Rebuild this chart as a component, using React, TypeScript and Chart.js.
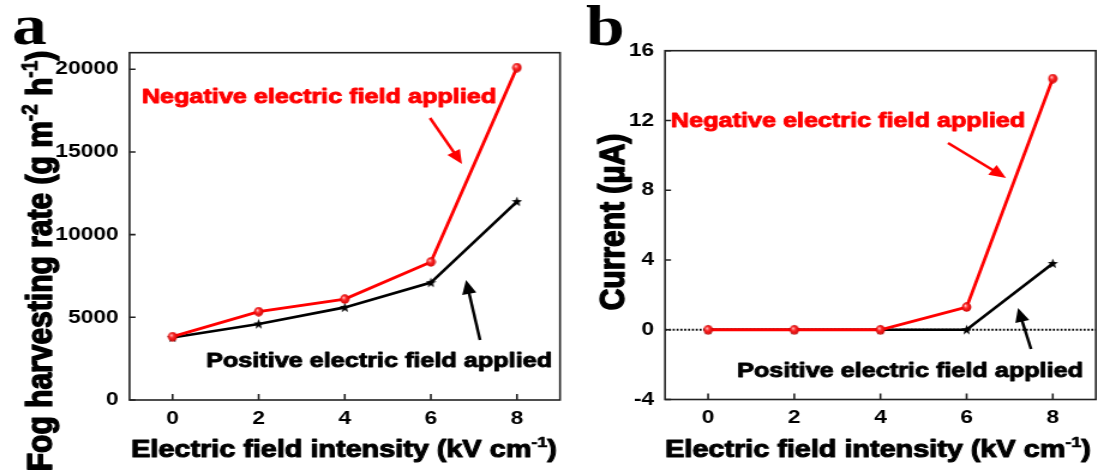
import React, { useEffect, useRef } from "react";
import { Chart, registerables } from "chart.js";

Chart.register(...registerables);

// ---------- data ----------
const fieldKV = [0, 2, 4, 6, 8];
const fogNegative = [3830, 5340, 6100, 8350, 20100];
const fogPositive = [3780, 4600, 5600, 7100, 12000];
const currentNegative = [0, 0, 0, 1.3, 14.4];
const currentPositive = [0, 0, 0, 0, 3.8];
const xTickValues = [0, 2, 4, 6, 8];
const fogTickValues = [0, 5000, 10000, 15000, 20000];
const currentTickValues = [-4, 0, 4, 8, 12, 16];

const negLabel = "Negative electric field applied";
const posLabel = "Positive electric field applied";

// ---------- styling ----------
const S = 1.2; // horizontal stretch of the picture
const FONT = '"Liberation Sans", Arial, Helvetica, sans-serif';
const SERIF = '"Liberation Serif", "Times New Roman", serif';
const RED = "#ff0000";

type Part = { t: string; sup?: boolean };

function drawRich(ctx: CanvasRenderingContext2D, parts: Part[], x: number, y: number, size: number, color: string) {
  const mainFont = `bold ${size}px ${FONT}`;
  const supFont = `bold ${Math.round(size * 0.62)}px ${FONT}`;
  let total = 0;
  const widths = parts.map((p) => {
    ctx.font = p.sup ? supFont : mainFont;
    const w = ctx.measureText(p.t).width;
    total += w;
    return w;
  });
  let cx = x - total / 2;
  ctx.save();
  ctx.fillStyle = color;
  ctx.strokeStyle = color;
  ctx.lineJoin = "round";
  ctx.textAlign = "left";
  ctx.textBaseline = "alphabetic";
  parts.forEach((p, i) => {
    ctx.font = p.sup ? supFont : mainFont;
    const yy = p.sup ? y - size * 0.42 : y;
    ctx.lineWidth = (p.sup ? size * 0.62 : size) * 0.045;
    ctx.fillText(p.t, cx, yy);
    ctx.strokeText(p.t, cx, yy);
    cx += widths[i];
  });
  ctx.restore();
}

function drawArrow(ctx: CanvasRenderingContext2D, x1: number, y1: number, x2: number, y2: number, color: string) {
  const dx = x2 - x1, dy = y2 - y1;
  const L = Math.hypot(dx, dy);
  const ux = dx / L, uy = dy / L;
  const headLen = 14, headW = 6;
  const bx = x2 - ux * headLen, by = y2 - uy * headLen;
  ctx.save();
  ctx.strokeStyle = color;
  ctx.lineWidth = 2.5;
  ctx.beginPath();
  ctx.moveTo(x1, y1);
  ctx.lineTo(bx + ux * 2, by + uy * 2);
  ctx.stroke();
  ctx.fillStyle = color;
  ctx.beginPath();
  ctx.moveTo(x2, y2);
  ctx.lineTo(bx - uy * headW, by + ux * headW);
  ctx.lineTo(bx + uy * headW, by - ux * headW);
  ctx.closePath();
  ctx.fill();
  ctx.restore();
}

function makeSphere(): HTMLCanvasElement {
  const c = document.createElement("canvas");
  c.width = 9;
  c.height = 10;
  const g = c.getContext("2d")!;
  g.translate(4.5, 5);
  g.scale(1 / S, 1);
  const grad = g.createRadialGradient(-1.4, -1.6, 0.2, 0, 0, 4.8);
  grad.addColorStop(0, "#ffd0d0");
  grad.addColorStop(0.4, "#ff2a2a");
  grad.addColorStop(1, "#d00000");
  g.fillStyle = grad;
  g.beginPath();
  g.arc(0, 0, 4.7, 0, Math.PI * 2);
  g.fill();
  return c;
}

function makeStar(): HTMLCanvasElement {
  const c = document.createElement("canvas");
  c.width = 9;
  c.height = 11;
  const g = c.getContext("2d")!;
  g.translate(4.5, 5.8);
  g.scale(1 / S, 1);
  g.beginPath();
  for (let i = 0; i < 10; i++) {
    const r = i % 2 === 0 ? 5.4 : 2.3;
    const a = -Math.PI / 2 + (i * Math.PI) / 5;
    const px = r * Math.cos(a), py = r * Math.sin(a);
    if (i === 0) g.moveTo(px, py);
    else g.lineTo(px, py);
  }
  g.closePath();
  g.fillStyle = "#000";
  g.fill();
  return c;
}

type Spec = {
  canvasW: number;
  offset: number; // display x offset of the canvas
  yLeftW: number;
  rightPad: number;
  topPad: number;
  xAxisH: number;
  yMin: number;
  yMax: number;
  yTicks: number[];
  neg: number[];
  pos: number[];
  zeroLine: boolean;
  letter: string;
  letterPos: [number, number];
  yTitle: Part[];
  yTitlePos: [number, number];
  xTitlePos: [number, number];
  negTextPos: [number, number];
  negArrow: [number, number, number, number];
  posTextPos: [number, number];
  posArrow: [number, number, number, number];
};

const xTitle: Part[] = [{ t: "Electric field intensity (kV cm" }, { t: "-1", sup: true }, { t: ")" }];

const specA: Spec = {
  canvasW: 480,
  offset: 0,
  yLeftW: 129.5 / S,
  rightPad: 480 - 560 / S,
  topPad: 52.7,
  xAxisH: 75,
  yMin: 0,
  yMax: 21000,
  yTicks: fogTickValues,
  neg: fogNegative,
  pos: fogPositive,
  zeroLine: false,
  letter: "a",
  letterPos: [12, 44],
  yTitle: [{ t: "Fog harvesting rate (g m" }, { t: "-2", sup: true }, { t: " h" }, { t: "-1", sup: true }, { t: ")" }],
  yTitlePos: [52, 261],
  xTitlePos: [344, 457],
  negTextPos: [319, 103],
  negArrow: [430, 118, 462, 164],
  posTextPos: [379, 367],
  posArrow: [480, 340, 466, 280],
};

const specB: Spec = {
  canvasW: 440,
  offset: 576,
  yLeftW: (665 - 576) / S,
  rightPad: 440 - (1096 - 576) / S,
  topPad: 50.7,
  xAxisH: 75.5,
  yMin: -4,
  yMax: 16,
  yTicks: currentTickValues,
  neg: currentNegative,
  pos: currentPositive,
  zeroLine: true,
  letter: "b",
  letterPos: [586, 45],
  yTitle: [{ t: "Current (\u03BCA)" }],
  yTitlePos: [624, 222],
  xTitlePos: [878, 457],
  negTextPos: [848, 127],
  negArrow: [948, 143, 1006, 178],
  posTextPos: [910, 377],
  posArrow: [1031, 349, 1018, 308],
};

function buildChart(canvas: HTMLCanvasElement, spec: Spec): Chart {
  const sphere = makeSphere();
  const star = makeStar();
  const cx = (d: number) => (d - spec.offset) / S;

  const decor = {
    id: "decor",
    beforeDatasetsDraw(chart: any) {
      if (!spec.zeroLine) return;
      const ctx = chart.ctx as CanvasRenderingContext2D;
      const { left, right } = chart.chartArea;
      const y0 = chart.scales.y.getPixelForValue(0);
      ctx.save();
      ctx.strokeStyle = "#000";
      ctx.lineWidth = 1.8;
      ctx.setLineDash([1.7, 1.5]);
      ctx.beginPath();
      ctx.moveTo(left, y0);
      ctx.lineTo(right, y0);
      ctx.stroke();
      ctx.restore();
    },
    afterDraw(chart: any) {
      const ctx = chart.ctx as CanvasRenderingContext2D;
      const { left, right, top, bottom } = chart.chartArea;
      const xs = chart.scales.x, ys = chart.scales.y;
      ctx.save();
      ctx.strokeStyle = "#222";
      ctx.lineWidth = 1.6;
      ctx.strokeRect(left, top, right - left, bottom - top);
      ctx.beginPath();
      xs.ticks.forEach((t: any) => {
        const px = xs.getPixelForValue(t.value);
        ctx.moveTo(px, bottom);
        ctx.lineTo(px, bottom - 6);
      });
      ys.ticks.forEach((t: any) => {
        const py = ys.getPixelForValue(t.value);
        ctx.moveTo(left, py);
        ctx.lineTo(left + 5, py);
      });
      ctx.stroke();

      // panel letter
      ctx.fillStyle = "#000";
      ctx.font = `bold 58px ${SERIF}`;
      ctx.textAlign = "left";
      ctx.textBaseline = "alphabetic";
      ctx.fillText(spec.letter, cx(spec.letterPos[0]), spec.letterPos[1]);

      // axis titles
      drawRich(ctx, xTitle, cx(spec.xTitlePos[0]), spec.xTitlePos[1], 24, "#000");
      ctx.save();
      ctx.translate(cx(spec.yTitlePos[0]), spec.yTitlePos[1]);
      ctx.rotate(-Math.PI / 2);
      drawRich(ctx, spec.yTitle, 0, 0, 30, "#000");
      ctx.restore();

      // annotations
      drawRich(ctx, [{ t: negLabel }], cx(spec.negTextPos[0]), spec.negTextPos[1], 21, RED);
      drawRich(ctx, [{ t: posLabel }], cx(spec.posTextPos[0]), spec.posTextPos[1], 21, "#000");
      const na = spec.negArrow, pa = spec.posArrow;
      drawArrow(ctx, cx(na[0]), na[1], cx(na[2]), na[3], RED);
      drawArrow(ctx, cx(pa[0]), pa[1], cx(pa[2]), pa[3], "#000");
      ctx.restore();
    },
  };

  const tickFont = { family: FONT, size: 19, weight: "bold" as const };

  return new Chart(canvas, {
    type: "line",
    data: {
      datasets: [
        {
          label: "Negative",
          data: fieldKV.map((x, i) => ({ x, y: spec.neg[i] })),
          borderColor: RED,
          borderWidth: 2.8,
          pointStyle: sphere as any,
          pointRadius: 4,
          tension: 0,
        },
        {
          label: "Positive",
          data: fieldKV.map((x, i) => ({ x, y: spec.pos[i] })),
          borderColor: "#000",
          borderWidth: 2.6,
          pointStyle: star as any,
          pointRadius: 4,
          tension: 0,
        },
      ],
    },
    options: {
      animation: false,
      responsive: false,
      devicePixelRatio: 1,
      events: [],
      layout: { padding: { left: 0, right: spec.rightPad, top: spec.topPad, bottom: 0 } },
      plugins: { legend: { display: false }, tooltip: { enabled: false }, title: { display: false } },
      scales: {
        x: {
          type: "linear",
          min: -1,
          max: 9,
          afterBuildTicks: (s: any) => {
            s.ticks = xTickValues.map((v) => ({ value: v }));
          },
          afterFit: (s: any) => {
            s.height = spec.xAxisH;
          },
          grid: { display: false, drawTicks: false },
          border: { display: false },
          ticks: { color: "#000", font: tickFont, padding: 7, maxRotation: 0, callback: (v: any) => String(v) },
        },
        y: {
          type: "linear",
          min: spec.yMin,
          max: spec.yMax,
          afterBuildTicks: (s: any) => {
            s.ticks = spec.yTicks.map((v) => ({ value: v }));
          },
          afterFit: (s: any) => {
            s.width = spec.yLeftW;
          },
          grid: { display: false, drawTicks: false },
          border: { display: false },
          ticks: { color: "#000", font: tickFont, padding: 9, callback: (v: any) => String(v) },
        },
      },
    },
    plugins: [decor],
  } as any);
}

export default function App() {
  const refA = useRef<HTMLCanvasElement>(null);
  const refB = useRef<HTMLCanvasElement>(null);

  useEffect(() => {
    const a = buildChart(refA.current!, specA);
    const b = buildChart(refB.current!, specB);
    return () => {
      a.destroy();
      b.destroy();
    };
  }, []);

  return (
    <div style={{ position: "absolute", left: 0, top: 0, width: 1104, height: 475, background: "#fff", overflow: "hidden" }}>
      <canvas
        ref={refA}
        width={specA.canvasW}
        height={475}
        style={{ position: "absolute", left: 0, top: 0, width: specA.canvasW * S + "px", height: "475px" }}
      />
      <canvas
        ref={refB}
        width={specB.canvasW}
        height={475}
        style={{ position: "absolute", left: specB.offset, top: 0, width: specB.canvasW * S + "px", height: "475px" }}
      />
    </div>
  );
}
